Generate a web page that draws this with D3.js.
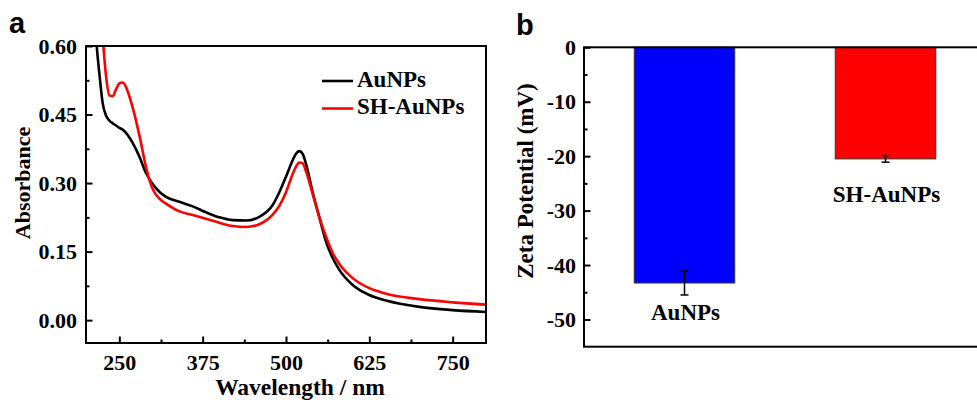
<!DOCTYPE html>
<html>
<head>
<meta charset="utf-8">
<script src="https://cdn.jsdelivr.net/npm/d3@7"></script>
<style>
  body { margin: 0; background: #fff; }
</style>
</head>
<body>
<div id="chart-area"></div>
<script>
// Panel a data: UV-vis spectra
const wavelengths = [210, 215, 220, 225, 230, 235, 240, 245, 250, 255, 260, 270, 280, 290, 300, 310, 320, 340, 360, 380, 400, 420, 440, 460, 480, 490, 500, 510, 515, 520, 525, 530, 540, 550, 560, 570, 580, 600, 625, 650, 700, 750, 800];
const absAuNPs = [0.75, 0.62, 0.54, 0.475, 0.448, 0.437, 0.431, 0.426, 0.421, 0.417, 0.41, 0.388, 0.358, 0.322, 0.298, 0.281, 0.27, 0.259, 0.249, 0.236, 0.225, 0.219, 0.218, 0.226, 0.252, 0.28, 0.314, 0.35, 0.364, 0.37, 0.364, 0.342, 0.28, 0.225, 0.172, 0.136, 0.11, 0.077, 0.055, 0.043, 0.029, 0.022, 0.018];
const absSH = [1.0, 0.85, 0.72, 0.62, 0.535, 0.492, 0.49, 0.505, 0.518, 0.52, 0.51, 0.465, 0.405, 0.335, 0.287, 0.266, 0.255, 0.238, 0.23, 0.222, 0.213, 0.206, 0.204, 0.21, 0.231, 0.25, 0.28, 0.32, 0.336, 0.345, 0.343, 0.326, 0.276, 0.225, 0.183, 0.147, 0.123, 0.092, 0.07, 0.058, 0.046, 0.039, 0.034];
const seriesNames = ['AuNPs', 'SH-AuNPs'];
const seriesColors = ['#000000', '#ff0000'];
const xTicksA = [250, 375, 500, 625, 750];
const xMinorA = [312.5, 437.5, 562.5, 687.5];
const yTicksA = [0, 0.15, 0.30, 0.45, 0.60];
const yMinorA = [0.075, 0.225, 0.375, 0.525];

// Panel b data: zeta potential
const categories = ['AuNPs', 'SH-AuNPs'];
const zeta = [-43.3, -20.5];
const zetaErr = [2.2, 0.6];
const barColors = ['#0000ff', '#ff0000'];
const yTicksB = [0, -10, -20, -30, -40, -50];
const yMinorB = [-5, -15, -25, -35, -45];

const serif = '"Liberation Serif", "Times New Roman", serif';
const sans = '"Liberation Sans", Arial, sans-serif';

const svg = d3.select('#chart-area')
    .append('svg')
    .attr('width', 977)
    .attr('height', 400)
    .style('font-family', serif)
    .style('font-weight', 'bold');

// ---------- Panel a ----------
const a = { left: 86, right: 486, top: 46, bottom: 343 };

const xA = d3.scaleLinear().domain([200, 800]).range([a.left, a.right]);
const yA = d3.scaleLinear().domain([-0.05, 0.60]).range([a.bottom, a.top]);

svg.append('clipPath').attr('id', 'clipA')
    .append('rect')
    .attr('x', a.left).attr('y', a.top)
    .attr('width', a.right - a.left).attr('height', a.bottom - a.top);

const line = d3.line()
    .x((d) => xA(d[0]))
    .y((d) => yA(d[1]))
    .curve(d3.curveMonotoneX);

[absAuNPs, absSH].forEach((vals, i) => {
    svg.append('path')
        .datum(wavelengths.map((w, j) => [w, vals[j]]))
        .attr('clip-path', 'url(#clipA)')
        .attr('fill', 'none')
        .attr('stroke', seriesColors[i])
        .attr('stroke-width', 2.6)
        .attr('d', line);
});

// axes
const styleAxis = (g) => {
    g.select('.domain').remove();
    g.selectAll('line').attr('stroke', '#000').attr('stroke-width', 2);
    g.selectAll('text')
        .style('font-family', serif)
        .style('font-weight', 'bold')
        .style('font-size', '22px')
        .attr('fill', '#000');
};

svg.append('g')
    .attr('transform', 'translate(0,' + a.bottom + ')')
    .call(d3.axisBottom(xA).tickValues(xTicksA).tickSizeInner(-6.5).tickSizeOuter(0).tickPadding(11))
    .call(styleAxis);
svg.append('g')
    .attr('transform', 'translate(0,' + a.bottom + ')')
    .call(d3.axisBottom(xA).tickValues(xMinorA).tickSizeInner(-3.5).tickSizeOuter(0).tickFormat(''))
    .call(styleAxis);
svg.append('g')
    .attr('transform', 'translate(' + a.left + ',0)')
    .call(d3.axisLeft(yA).tickValues(yTicksA).tickSizeInner(-6.5).tickSizeOuter(0).tickPadding(9).tickFormat(d3.format('.2f')))
    .call(styleAxis);
svg.append('g')
    .attr('transform', 'translate(' + a.left + ',0)')
    .call(d3.axisLeft(yA).tickValues(yMinorA).tickSizeInner(-3.5).tickSizeOuter(0).tickFormat(''))
    .call(styleAxis);

svg.append('rect')
    .attr('x', a.left).attr('y', a.top)
    .attr('width', a.right - a.left).attr('height', a.bottom - a.top)
    .attr('fill', 'none').attr('stroke', '#000').attr('stroke-width', 2);

// legend
seriesNames.forEach((name, i) => {
    const ly = 81 + i * 27.5;
    svg.append('line')
        .attr('x1', 322).attr('x2', 353)
        .attr('y1', ly).attr('y2', ly)
        .attr('stroke', seriesColors[i]).attr('stroke-width', 2.6);
    svg.append('text')
        .attr('x', 357).attr('y', ly + 5.5)
        .style('font-size', '23px')
        .text(name);
});

// labels
svg.append('text')
    .attr('x', 300).attr('y', 395)
    .attr('text-anchor', 'middle')
    .style('font-size', '23.5px')
    .text('Wavelength / nm');
svg.append('text')
    .attr('transform', 'translate(30,183) rotate(-90)')
    .attr('text-anchor', 'middle')
    .style('font-size', '22px')
    .text('Absorbance');
svg.append('text')
    .attr('x', 9).attr('y', 33)
    .style('font-family', sans)
    .style('font-size', '29px')
    .text('a');

// ---------- Panel b ----------
const b = { left: 584, right: 986, top: 47.3, bottom: 346.7 };

const xB = d3.scaleBand().domain(categories).range([b.left, b.right])
    .paddingInner(0.5).paddingOuter(0.25);
const yB = d3.scaleLinear().domain([-55, 0]).range([b.bottom, b.top]);

svg.selectAll('.bar')
    .data(zeta)
    .enter()
    .append('rect')
    .attr('class', 'bar')
    .attr('x', (d, i) => xB(categories[i]))
    .attr('y', yB(0))
    .attr('width', xB.bandwidth())
    .attr('height', (d) => yB(d) - yB(0))
    .attr('fill', (d, i) => barColors[i])
    .attr('stroke', '#333')
    .attr('stroke-width', 1);

// error bars
zeta.forEach((d, i) => {
    const cx = xB(categories[i]) + xB.bandwidth() / 2;
    const eg = svg.append('g').attr('stroke', '#000').attr('stroke-width', 1.5);
    eg.append('line').attr('x1', cx).attr('x2', cx)
        .attr('y1', yB(d + zetaErr[i])).attr('y2', yB(d - zetaErr[i]));
    [d + zetaErr[i], d - zetaErr[i]].forEach((v) => {
        eg.append('line').attr('x1', cx - 4).attr('x2', cx + 4)
            .attr('y1', yB(v)).attr('y2', yB(v));
    });
});

// category labels under the bars
const labelDy = [37, 43];
zeta.forEach((d, i) => {
    svg.append('text')
        .attr('x', xB(categories[i]) + xB.bandwidth() / 2 + 1)
        .attr('y', yB(d) + labelDy[i])
        .attr('text-anchor', 'middle')
        .style('font-size', '23px')
        .text(categories[i]);
});

svg.append('g')
    .attr('transform', 'translate(' + b.left + ',0)')
    .call(d3.axisLeft(yB).tickValues(yTicksB).tickSizeInner(-6.5).tickSizeOuter(0).tickPadding(8))
    .call(styleAxis)
    .selectAll('text').text((d) => d === 0 ? '0' : '-' + Math.abs(d));
svg.append('g')
    .attr('transform', 'translate(' + b.left + ',0)')
    .call(d3.axisLeft(yB).tickValues(yMinorB).tickSizeInner(-3.5).tickSizeOuter(0).tickFormat(''))
    .call(styleAxis);

svg.append('rect')
    .attr('x', b.left).attr('y', b.top)
    .attr('width', b.right - b.left).attr('height', b.bottom - b.top)
    .attr('fill', 'none').attr('stroke', '#000').attr('stroke-width', 2);

svg.append('text')
    .attr('transform', 'translate(533,181) rotate(-90)')
    .attr('text-anchor', 'middle')
    .style('font-size', '23px')
    .text('Zeta Potential (mV)');
svg.append('text')
    .attr('x', 516).attr('y', 35)
    .style('font-family', sans)
    .style('font-size', '29px')
    .text('b');
</script>
</body>
</html>
